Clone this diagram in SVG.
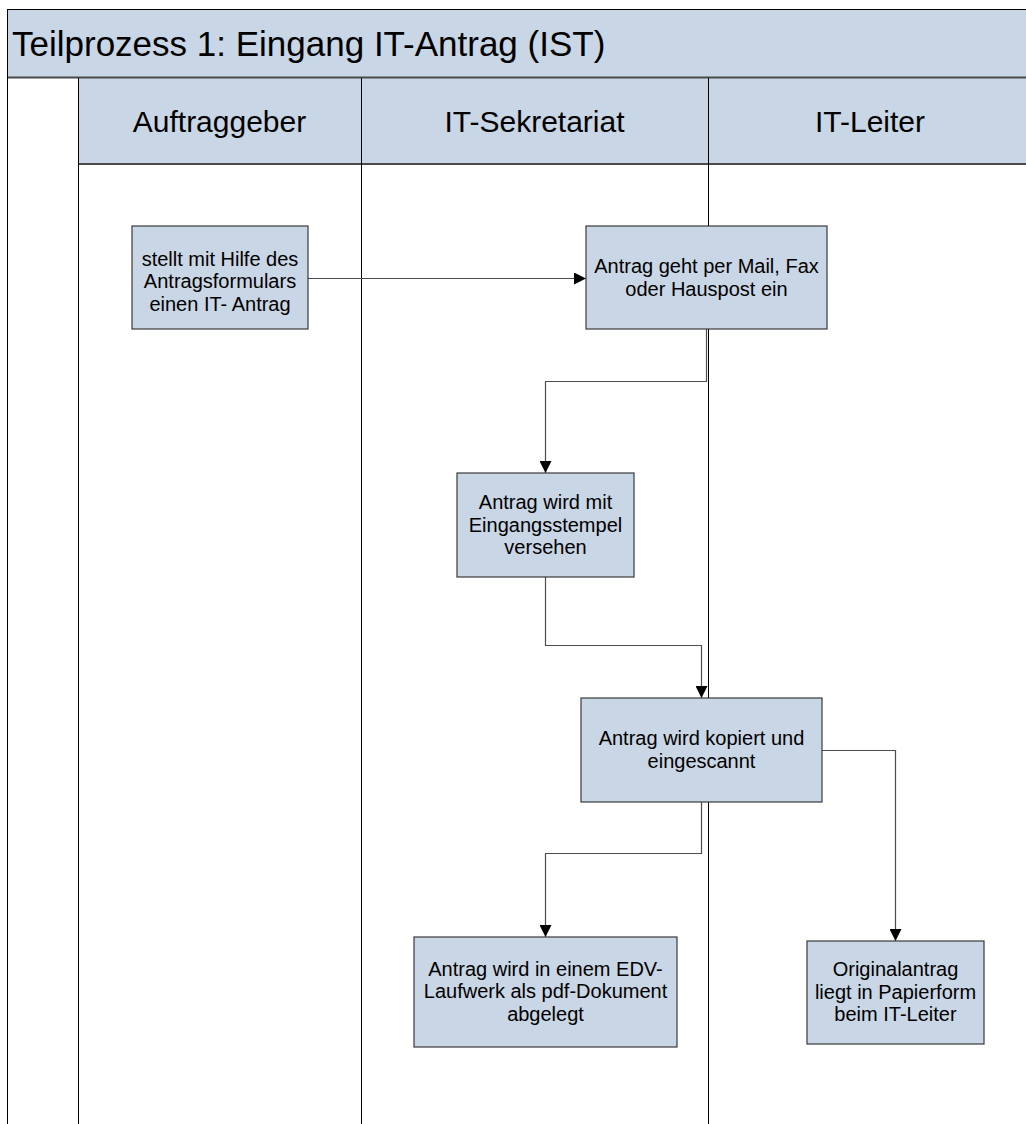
<svg xmlns="http://www.w3.org/2000/svg" width="1026" height="1124" viewBox="0 0 1026 1124">
  <defs>
    <style>
      .band { fill: #C9D6E5; }
      .frame { stroke: #000; stroke-width: 1; fill: none; }
      .sep { stroke: #4a4a4a; stroke-width: 2; fill: none; }
      .box { fill: #C9D6E5; stroke: #3a3a3a; stroke-width: 1.2; }
      .txt { font-family: "Liberation Sans", Arial, sans-serif; font-size: 20px; fill: #000; text-anchor: middle; }
      .lane { font-family: "Liberation Sans", Arial, sans-serif; font-size: 30px; fill: #000; text-anchor: middle; }
      .title { font-family: "Liberation Sans", Arial, sans-serif; font-size: 35px; fill: #000; }
      .conn { stroke: #4d4d4d; stroke-width: 1.2; fill: none; marker-end: url(#arrow); }
    </style>
    <marker id="arrow" viewBox="0 0 12 12" refX="12" refY="6" markerWidth="12" markerHeight="12" markerUnits="userSpaceOnUse" orient="auto">
      <path d="M0,0 L12,6 L0,12 Z" fill="#000"/>
    </marker>
  </defs>

  <rect width="1026" height="1124" fill="#fff"/>

  <!-- pool title band -->
  <g id="pool-title">
    <rect class="band" x="7.5" y="9.5" width="1030" height="68"/>
    <line class="frame" x1="7.5" y1="9.5" x2="1030" y2="9.5"/>
    <text class="title" x="12" y="56">Teilprozess 1: Eingang IT-Antrag (IST)</text>
  </g>

  <!-- lane headers -->
  <g id="lane-headers">
    <rect class="band" x="78.5" y="78" width="960" height="86"/>
    <text class="lane" x="219.5" y="132">Auftraggeber</text>
    <text class="lane" x="534.5" y="132">IT-Sekretariat</text>
    <text class="lane" x="870" y="132">IT-Leiter</text>
  </g>

  <!-- pool and lane borders -->
  <g id="lane-lines">
    <line class="sep" x1="7" y1="77.5" x2="1030" y2="77.5"/>
    <line class="sep" x1="78" y1="164" x2="1030" y2="164"/>
    <line class="frame" x1="7.5" y1="9" x2="7.5" y2="1124"/>
    <line class="frame" x1="78.5" y1="78" x2="78.5" y2="1124"/>
    <line class="frame" x1="361.5" y1="78" x2="361.5" y2="1124"/>
    <line class="frame" x1="708.5" y1="78" x2="708.5" y2="1124"/>
  </g>

  <!-- connectors -->
  <g id="connectors">
    <path class="conn" d="M308,278.5 H586"/>
    <path class="conn" d="M706.5,329 V381.5 H545.5 V473"/>
    <path class="conn" d="M545.5,577 V645.5 H701.5 V698"/>
    <path class="conn" d="M822,750.5 H895.5 V941"/>
    <path class="conn" d="M701.5,802 V853.5 H545.5 V937"/>
  </g>

  <!-- process steps -->
  <g id="n1">
    <rect class="box" x="132" y="226" width="176" height="103"/>
    <text class="txt" x="220" y="265.5">stellt mit Hilfe des</text>
    <text class="txt" x="220" y="288">Antragsformulars</text>
    <text class="txt" x="220" y="310.5">einen IT- Antrag</text>
  </g>
  <g id="n2">
    <rect class="box" x="586" y="226" width="241" height="103"/>
    <text class="txt" x="706.5" y="273">Antrag geht per Mail, Fax</text>
    <text class="txt" x="706.5" y="295.5">oder Hauspost ein</text>
  </g>
  <g id="n3">
    <rect class="box" x="457" y="473" width="177" height="104"/>
    <text class="txt" x="545.5" y="509">Antrag wird mit</text>
    <text class="txt" x="545.5" y="531.5">Eingangsstempel</text>
    <text class="txt" x="545.5" y="554">versehen</text>
  </g>
  <g id="n4">
    <rect class="box" x="581" y="698" width="241" height="104"/>
    <text class="txt" x="701.5" y="745">Antrag wird kopiert und</text>
    <text class="txt" x="701.5" y="767.5">eingescannt</text>
  </g>
  <g id="n5">
    <rect class="box" x="414" y="937" width="263" height="110"/>
    <text class="txt" x="545.5" y="975.5">Antrag wird in einem EDV-</text>
    <text class="txt" x="545.5" y="998">Laufwerk als pdf-Dokument</text>
    <text class="txt" x="545.5" y="1020.5">abgelegt</text>
  </g>
  <g id="n6">
    <rect class="box" x="807" y="941" width="177" height="103"/>
    <text class="txt" x="895.5" y="976">Originalantrag</text>
    <text class="txt" x="895.5" y="998.5">liegt in Papierform</text>
    <text class="txt" x="895.5" y="1021">beim IT-Leiter</text>
  </g>
</svg>
